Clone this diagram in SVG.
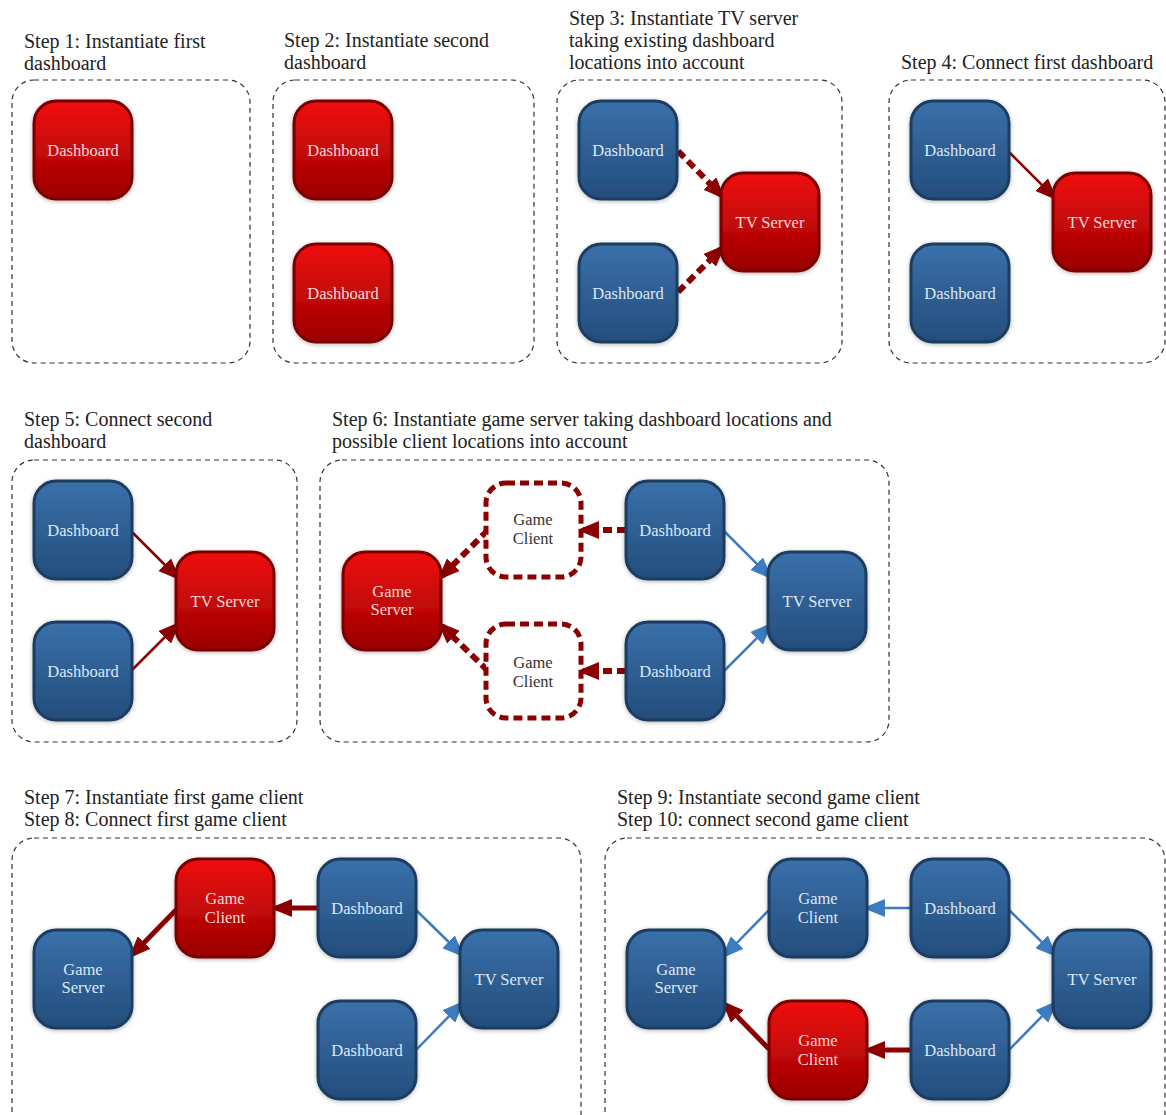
<svg xmlns="http://www.w3.org/2000/svg" width="1166" height="1115" viewBox="0 0 1166 1115">
<style>
.title{font-family:"Liberation Serif","Times New Roman",serif;font-size:20px;fill:#222}
.panel{fill:#fff;stroke:#333;stroke-width:1.2;stroke-dasharray:5 4}
.red rect{fill:url(#gRed);stroke:#7a0000;stroke-width:3;filter:url(#sh)}
.blue rect{fill:url(#gBlue);stroke:#1d3c60;stroke-width:3;filter:url(#sh)}
.ghost rect{fill:#fff;stroke:#8b0000;stroke-width:5;stroke-dasharray:9 5}
.lbl{font-family:"Liberation Serif","Times New Roman",serif;font-size:16.5px;text-anchor:middle}
.red text{fill:#f7d8d8}
.blue text{fill:#dbe8f6}
.ghost text{fill:#333}
.rd{stroke:#8b0000;stroke-width:6;stroke-dasharray:9 5;fill:none;marker-end:url(#ahR)}
.rs{stroke:#8b0000;stroke-width:2.5;fill:none;marker-end:url(#ahR)}
.rt{stroke:#8b0000;stroke-width:5;fill:none;marker-end:url(#ahR)}
.bs{stroke:#3d7cc0;stroke-width:2.5;fill:none;marker-end:url(#ahB)}
</style>
<defs>
<linearGradient id="gRed" x1="0" y1="0" x2="0" y2="1">
<stop offset="0" stop-color="#f01010"/>
<stop offset="1" stop-color="#9a0000"/>
</linearGradient>
<linearGradient id="gBlue" x1="0" y1="0" x2="0" y2="1">
<stop offset="0" stop-color="#3a70aa"/>
<stop offset="1" stop-color="#234d7c"/>
</linearGradient>
<filter id="sh" x="-20%" y="-20%" width="140%" height="140%">
<feDropShadow dx="0" dy="1" stdDeviation="2" flood-color="#000" flood-opacity="0.3"/>
</filter>
<marker id="ahR" markerUnits="userSpaceOnUse" markerWidth="22" markerHeight="18" refX="16" refY="9" orient="auto">
<path d="M0,0 L22,9 L0,18 z" fill="#8b0000"/>
</marker>
<marker id="ahB" markerUnits="userSpaceOnUse" markerWidth="22" markerHeight="18" refX="16" refY="9" orient="auto">
<path d="M0,0 L22,9 L0,18 z" fill="#3d7cc0"/>
</marker>
</defs>
<rect width="1166" height="1115" fill="#fff"/>

<g id="panels">
<rect class="panel" x="12" y="80" width="238" height="283" rx="22"/>
<rect class="panel" x="273" y="80" width="261" height="283" rx="22"/>
<rect class="panel" x="557" y="80" width="285" height="283" rx="22"/>
<rect class="panel" x="889" y="80" width="276" height="283" rx="22"/>
<rect class="panel" x="12" y="460" width="285" height="282" rx="22"/>
<rect class="panel" x="320" y="460" width="569" height="282" rx="22"/>
<rect class="panel" x="12" y="838" width="569" height="300" rx="22"/>
<rect class="panel" x="605" y="838" width="560" height="300" rx="22"/>
</g>

<g id="titles">
<text class="title" x="24" y="48">Step 1: Instantiate first</text>
<text class="title" x="24" y="70">dashboard</text>
<text class="title" x="284" y="47">Step 2: Instantiate second</text>
<text class="title" x="284" y="69">dashboard</text>
<text class="title" x="569" y="25">Step 3: Instantiate TV server</text>
<text class="title" x="569" y="47">taking existing dashboard</text>
<text class="title" x="569" y="69">locations into account</text>
<text class="title" x="901" y="69">Step 4: Connect first dashboard</text>
<text class="title" x="24" y="426">Step 5: Connect second</text>
<text class="title" x="24" y="448">dashboard</text>
<text class="title" x="332" y="426">Step 6: Instantiate game server taking dashboard locations and</text>
<text class="title" x="332" y="448">possible client locations into account</text>
<text class="title" x="24" y="804">Step 7: Instantiate first game client</text>
<text class="title" x="24" y="826">Step 8: Connect first game client</text>
<text class="title" x="617" y="804">Step 9: Instantiate second game client</text>
<text class="title" x="617" y="826">Step 10: connect second game client</text>
</g>

<g id="connectors">
<!-- step 3 -->
<line class="rd" x1="678" y1="151" x2="721" y2="195"/>
<line class="rd" x1="678" y1="292" x2="721" y2="249"/>
<!-- step 4 -->
<line class="rs" x1="1009" y1="152" x2="1053" y2="196"/>
<!-- step 5 -->
<line class="rs" x1="132" y1="532" x2="176" y2="576"/>
<line class="rs" x1="132" y1="670" x2="176" y2="626"/>
<!-- step 6 -->
<line class="rd" x1="626" y1="530" x2="583" y2="530"/>
<line class="rd" x1="626" y1="671" x2="583" y2="671"/>
<line class="rd" x1="488" y1="530" x2="442" y2="576"/>
<line class="rd" x1="488" y1="671" x2="442" y2="626"/>
<line class="bs" x1="724" y1="531" x2="768" y2="575"/>
<line class="bs" x1="724" y1="671" x2="768" y2="627"/>
<!-- step 7/8 -->
<line class="rt" x1="318" y1="908" x2="276" y2="908"/>
<line class="rt" x1="177" y1="909" x2="133" y2="954"/>
<line class="bs" x1="416" y1="910" x2="460" y2="953"/>
<line class="bs" x1="416" y1="1050" x2="460" y2="1005"/>
<!-- step 9/10 -->
<line class="bs" x1="911" y1="908" x2="869" y2="908"/>
<line class="bs" x1="769" y1="910" x2="726" y2="954"/>
<line class="bs" x1="1009" y1="910" x2="1053" y2="953"/>
<line class="bs" x1="1009" y1="1050" x2="1053" y2="1005"/>
<line class="rt" x1="911" y1="1050" x2="869" y2="1050"/>
<line class="rt" x1="769" y1="1049" x2="726" y2="1005"/>
</g>

<!-- step 1 -->
<g id="s1-dash" class="red"><rect x="34" y="101" width="98" height="98" rx="22"/><text class="lbl" x="83" y="156">Dashboard</text></g>
<!-- step 2 -->
<g id="s2-dash1" class="red"><rect x="294" y="101" width="98" height="98" rx="22"/><text class="lbl" x="343" y="156">Dashboard</text></g>
<g id="s2-dash2" class="red"><rect x="294" y="244" width="98" height="98" rx="22"/><text class="lbl" x="343" y="299">Dashboard</text></g>
<!-- step 3 -->
<g id="s3-dash1" class="blue"><rect x="579" y="101" width="98" height="98" rx="22"/><text class="lbl" x="628" y="156">Dashboard</text></g>
<g id="s3-dash2" class="blue"><rect x="579" y="244" width="98" height="98" rx="22"/><text class="lbl" x="628" y="299">Dashboard</text></g>
<g id="s3-tv" class="red"><rect x="721" y="173" width="98" height="98" rx="22"/><text class="lbl" x="770" y="228">TV Server</text></g>
<!-- step 4 -->
<g id="s4-dash1" class="blue"><rect x="911" y="101" width="98" height="98" rx="22"/><text class="lbl" x="960" y="156">Dashboard</text></g>
<g id="s4-dash2" class="blue"><rect x="911" y="244" width="98" height="98" rx="22"/><text class="lbl" x="960" y="299">Dashboard</text></g>
<g id="s4-tv" class="red"><rect x="1053" y="173" width="98" height="98" rx="22"/><text class="lbl" x="1102" y="228">TV Server</text></g>
<!-- step 5 -->
<g id="s5-dash1" class="blue"><rect x="34" y="481" width="98" height="98" rx="22"/><text class="lbl" x="83" y="536">Dashboard</text></g>
<g id="s5-dash2" class="blue"><rect x="34" y="622" width="98" height="98" rx="22"/><text class="lbl" x="83" y="677">Dashboard</text></g>
<g id="s5-tv" class="red"><rect x="176" y="552" width="98" height="98" rx="22"/><text class="lbl" x="225" y="607">TV Server</text></g>
<!-- step 6 -->
<g id="s6-gs" class="red"><rect x="343" y="552" width="98" height="98" rx="22"/><text class="lbl" x="392" y="597">Game</text><text class="lbl" x="392" y="615">Server</text></g>
<g id="s6-gc1" class="ghost"><rect x="486" y="483" width="95" height="94" rx="20"/><text class="lbl" x="533" y="525">Game</text><text class="lbl" x="533" y="544">Client</text></g>
<g id="s6-gc2" class="ghost"><rect x="486" y="624" width="95" height="94" rx="20"/><text class="lbl" x="533" y="668">Game</text><text class="lbl" x="533" y="687">Client</text></g>
<g id="s6-dash1" class="blue"><rect x="626" y="481" width="98" height="98" rx="22"/><text class="lbl" x="675" y="536">Dashboard</text></g>
<g id="s6-dash2" class="blue"><rect x="626" y="622" width="98" height="98" rx="22"/><text class="lbl" x="675" y="677">Dashboard</text></g>
<g id="s6-tv" class="blue"><rect x="768" y="552" width="98" height="98" rx="22"/><text class="lbl" x="817" y="607">TV Server</text></g>
<!-- step 7/8 -->
<g id="s7-gc" class="red"><rect x="176" y="859" width="98" height="98" rx="22"/><text class="lbl" x="225" y="904">Game</text><text class="lbl" x="225" y="923">Client</text></g>
<g id="s7-gs" class="blue"><rect x="34" y="930" width="98" height="98" rx="22"/><text class="lbl" x="83" y="975">Game</text><text class="lbl" x="83" y="993">Server</text></g>
<g id="s7-dash1" class="blue"><rect x="318" y="859" width="98" height="98" rx="22"/><text class="lbl" x="367" y="914">Dashboard</text></g>
<g id="s7-dash2" class="blue"><rect x="318" y="1001" width="98" height="98" rx="22"/><text class="lbl" x="367" y="1056">Dashboard</text></g>
<g id="s7-tv" class="blue"><rect x="460" y="930" width="98" height="98" rx="22"/><text class="lbl" x="509" y="985">TV Server</text></g>
<!-- step 9/10 -->
<g id="s9-gc1" class="blue"><rect x="769" y="859" width="98" height="98" rx="22"/><text class="lbl" x="818" y="904">Game</text><text class="lbl" x="818" y="923">Client</text></g>
<g id="s9-gs" class="blue"><rect x="627" y="930" width="98" height="98" rx="22"/><text class="lbl" x="676" y="975">Game</text><text class="lbl" x="676" y="993">Server</text></g>
<g id="s9-gc2" class="red"><rect x="769" y="1001" width="98" height="98" rx="22"/><text class="lbl" x="818" y="1046">Game</text><text class="lbl" x="818" y="1065">Client</text></g>
<g id="s9-dash1" class="blue"><rect x="911" y="859" width="98" height="98" rx="22"/><text class="lbl" x="960" y="914">Dashboard</text></g>
<g id="s9-dash2" class="blue"><rect x="911" y="1001" width="98" height="98" rx="22"/><text class="lbl" x="960" y="1056">Dashboard</text></g>
<g id="s9-tv" class="blue"><rect x="1053" y="930" width="98" height="98" rx="22"/><text class="lbl" x="1102" y="985">TV Server</text></g>
</svg>
